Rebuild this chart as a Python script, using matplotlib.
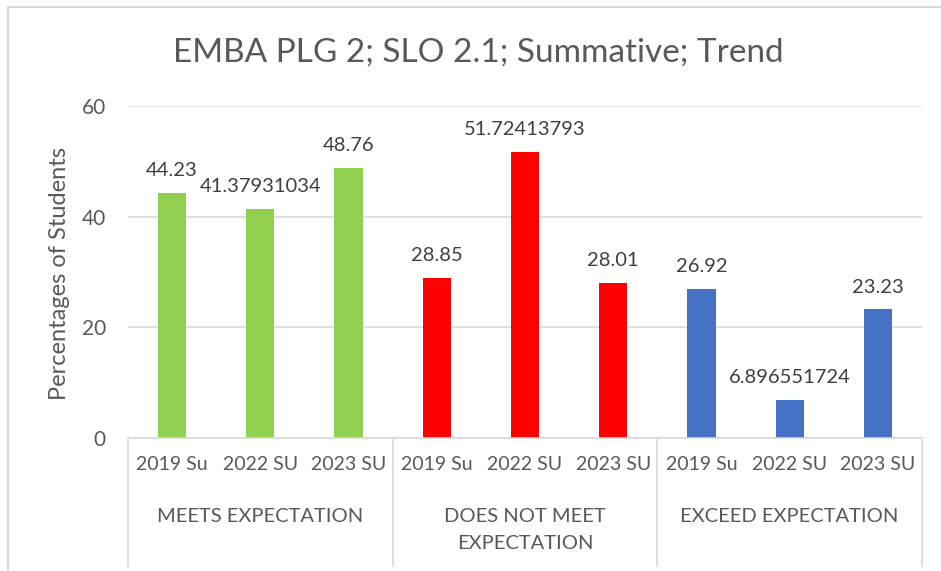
import matplotlib
matplotlib.use("Agg")
import matplotlib.pyplot as plt
from matplotlib.patches import Rectangle
from matplotlib.lines import Line2D

groups = ["MEETS EXPECTATION", "DOES NOT MEET\nEXPECTATION", "EXCEED EXPECTATION"]
years = ["2019 Su", "2022 SU", "2023 SU"]
meets = [44.23, 41.37931034, 48.76]
not_meet = [28.85, 51.72413793, 28.01]
exceed = [26.92, 6.896551724, 23.23]
series = [meets, not_meet, exceed]
colors = ["#92D050", "#FF0000", "#4472C4"]

plt.rcParams['font.family'] = ['Lato', 'DejaVu Sans']
TXT = "#595959"

W, H = 941, 571
fig = plt.figure(figsize=(W / 100, H / 100), dpi=100)
ax = fig.add_axes([128 / W, (H - 438) / H, (922 - 128) / W, (438 - 106) / H])

xs, vals, cols, labs = [], [], [], []
for gi, s in enumerate(series):
    for yi, v in enumerate(s):
        xs.append(gi * 3 + yi)
        vals.append(v)
        cols.append(colors[gi])
        labs.append(years[yi])

ax.bar(xs, vals, width=0.32, color=cols, zorder=3)
for x, v in zip(xs, vals):
    ax.annotate(str(v), (x, v), xytext=(0, 10), textcoords="offset points",
                ha="center", va="bottom", fontsize=14.5, color="#404040")

ax.set_xlim(-0.5, 8.5)
ax.set_ylim(0, 60)
ax.set_yticks([0, 20, 40, 60])
ax.yaxis.grid(True, color="#D9D9D9", lw=1.2, zorder=0)
for sp in ax.spines.values():
    sp.set_visible(False)
ax.tick_params(axis="y", length=0, pad=16, labelsize=15, labelcolor=TXT)
ax.set_xticks(xs)
ax.set_xticklabels(labs)
ax.tick_params(axis="x", length=0, pad=13, labelsize=14, labelcolor=TXT)

trans = ax.get_xaxis_transform()
ax.add_line(Line2D([-0.5, 8.5], [0, 0], transform=trans, color="#D9D9D9", lw=1.2, clip_on=False, zorder=4))
for xb in [-0.5, 2.5, 5.5, 8.5]:
    ax.add_line(Line2D([xb, xb], [0, -0.385], transform=trans, color="#D9D9D9", lw=1.2, clip_on=False))
for gi, g in enumerate(groups):
    ax.text(gi * 3 + 1, -0.21, g, transform=trans, ha="center", va="top",
            fontsize=14.5, color=TXT, linespacing=1.75)

fig.text(478 / W, 1 - 53 / H, "EMBA PLG 2; SLO 2.1; Summative; Trend", ha="center", va="center",
         fontsize=24, color=TXT)
fig.text(60 / W, 1 - 273 / H, "Percentages of Students", rotation=90, ha="center", va="center",
         fontsize=17, color=TXT)

fig.patches.append(Rectangle((8 / W, -0.1), 1.2, 1 - 7 / H + 0.1, transform=fig.transFigure,
                             fill=False, edgecolor="#D9D9D9", lw=1.5))

fig.savefig("out.png", dpi=100)
